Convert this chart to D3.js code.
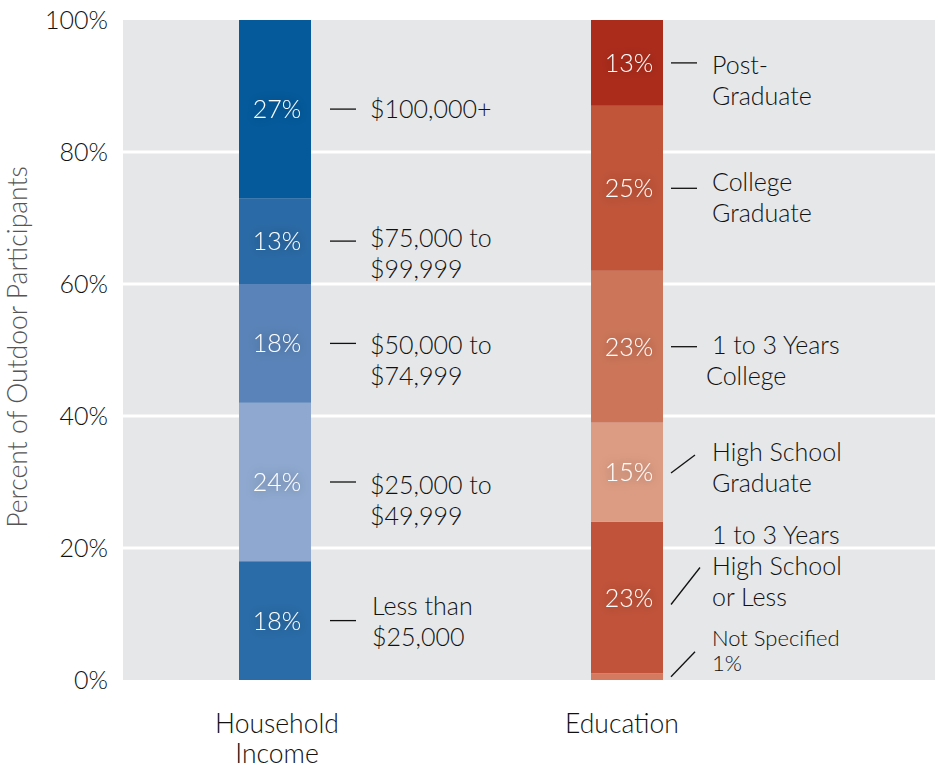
<!DOCTYPE html>
<html>
<head>
<meta charset="utf-8">
<script src="https://cdn.jsdelivr.net/npm/d3@7"></script>
<style>
  body { margin: 0; background: #fff; }
  text { font-family: Lato, "Open Sans", sans-serif; font-weight: 300; }
</style>
</head>
<body>
<svg id="chart"></svg>
<script>
// categories along x
let categories = ['Household Income', 'Education'];

// segments, bottom to top
let incomeLabels = [['Less than', '$25,000'], ['$25,000 to', '$49,999'], ['$50,000 to', '$74,999'],
  ['$75,000 to', '$99,999'], ['$100,000+']];
let incomeValues = [18, 24, 18, 13, 27];
let incomeColors = ['#2a6ca8', '#8ea8cf', '#5a84b9', '#2a6aa6', '#045a9b'];

let eduLabels = [['Not Specified', '1%'], ['1 to 3 Years', 'High School', 'or Less'], ['High School', 'Graduate'],
  ['1 to 3 Years', 'College'], ['College', 'Graduate'], ['Post-', 'Graduate']];
let eduValues = [1, 23, 15, 23, 25, 13];
let eduColors = ['#d47a60', '#c1533a', '#dc9c83', '#cc7559', '#c0553a', '#ac2c1b'];

let yTicks = [0, 20, 40, 60, 80, 100];

function makeChart() {
  let w = 935;
  let h = 770;
  let marginT = 20;
  let marginL = 123;
  let marginB = 90;

  let chart = d3.select('#chart')
    .attr('width', w)
    .attr('height', h);

  // glow behind the white percent labels
  let filter = chart.append('defs').append('filter')
    .attr('id', 'glow')
    .attr('x', '-50%').attr('y', '-50%').attr('width', '200%').attr('height', '200%');
  filter.append('feGaussianBlur').attr('in', 'SourceAlpha').attr('stdDeviation', 6).attr('result', 'blur');
  filter.append('feComponentTransfer').attr('in', 'blur').attr('result', 'shade')
    .append('feFuncA').attr('type', 'linear').attr('slope', 0.45);
  let merge = filter.append('feMerge');
  merge.append('feMergeNode').attr('in', 'shade');
  merge.append('feMergeNode').attr('in', 'SourceGraphic');

  let yScale = d3.scaleLinear()
    .domain([0, 100])
    .range([h - marginB, marginT]);

  let xScale = d3.scalePoint()
    .domain(categories)
    .range([275, 627]);

  let barwidth = 72;

  // plot background
  chart.append('rect')
    .attr('x', marginL)
    .attr('y', marginT)
    .attr('width', w - marginL)
    .attr('height', yScale(0) - marginT)
    .attr('fill', '#e6e7e9');

  // gridlines
  chart.append('g')
    .selectAll('line')
    .data(yTicks.filter(d => d > 0 && d < 100))
    .enter()
    .append('line')
    .attr('x1', marginL)
    .attr('x2', w)
    .attr('y1', d => yScale(d))
    .attr('y2', d => yScale(d))
    .attr('stroke', '#fff')
    .attr('stroke-width', 3);

  // y axis
  let yAxis = d3.axisLeft(yScale)
    .tickValues(yTicks)
    .tickSize(0)
    .tickPadding(15)
    .tickFormat(d => d + '%');

  let yg = chart.append('g')
    .attr('transform', `translate(${marginL}, 0)`)
    .call(yAxis);
  yg.select('.domain').remove();
  yg.selectAll('text')
    .style('font-family', 'Lato, sans-serif')
    .style('font-weight', 300)
    .style('font-size', '25px')
    .attr('fill', '#111');

  chart.append('text')
    .attr('transform', 'rotate(-90)')
    .attr('x', -347)
    .attr('y', 27)
    .style('text-anchor', 'middle')
    .style('font-size', '26.5px')
    .attr('fill', '#555')
    .text('Percent of Outdoor Participants');

  // category labels
  chart.append('g')
    .selectAll('text')
    .data(categories)
    .enter()
    .append('text')
    .attr('x', (d, i) => xScale(d) + (i == 0 ? 2 : -5))
    .attr('y', 733)
    .style('text-anchor', 'middle')
    .style('font-size', '26.5px')
    .attr('fill', '#111')
    .each(function (d) {
      let words = d.split(' ');
      d3.select(this).selectAll('tspan')
        .data(words)
        .enter()
        .append('tspan')
        .attr('x', d3.select(this).attr('x'))
        .attr('dy', (t, j) => j == 0 ? 0 : 30)
        .text(t => t);
    });

  // build stacked segments
  let bars = [
    { cat: categories[0], values: incomeValues, colors: incomeColors, labels: incomeLabels,
      lineX: [19, 45], textX: 59,
      // [text offset of first line, connector start dy, connector end dy, end x]
      layout: [[-15, 0, 0, 45], [3, 0, 0, 45], [2, 0, 0, 45], [-3, 0, 0, 45], [0, 0, 0, 45]] },
    { cat: categories[1], values: eduValues, colors: eduColors, labels: eduLabels,
      lineX: [8, 34], textX: 49,
      layout: [[-39, 0, -25, 32], [-63, 7, -30, 37], [-20, 1, -17, 32], [-2, 0, 0, 34], [-6, 0, 0, 34], [2, 0, 0, 34]] }
  ];

  bars.forEach(function (b) {
    let segs = [];
    let sum = 0;
    b.values.forEach(function (v, i) {
      segs.push({ y0: sum, y1: sum + v, value: v, color: b.colors[i], label: b.labels[i], layout: b.layout[i] });
      sum += v;
    });

    let x0 = xScale(b.cat) - barwidth / 2;
    let x1 = x0 + barwidth;
    let g = chart.append('g');

    g.selectAll('rect')
      .data(segs)
      .enter()
      .append('rect')
      .attr('x', x0)
      .attr('y', d => yScale(d.y1))
      .attr('width', barwidth)
      .attr('height', d => yScale(d.y0) - yScale(d.y1))
      .attr('fill', d => d.color);

    // percent labels inside bars (skip the tiny one)
    g.selectAll('.pct')
      .data(segs.filter(d => d.value > 2))
      .enter()
      .append('text')
      .attr('class', 'pct')
      .attr('x', xScale(b.cat) + 2)
      .attr('y', d => yScale((d.y0 + d.y1) / 2))
      .attr('dy', '0.36em')
      .style('text-anchor', 'middle')
      .style('font-size', '25px')
      .attr('fill', '#fff')
      .attr('filter', 'url(#glow)')
      .text(d => d.value + '%');

    // connectors
    g.selectAll('line')
      .data(segs)
      .enter()
      .append('line')
      .attr('x1', x1 + b.lineX[0])
      .attr('x2', d => x1 + d.layout[3])
      .attr('y1', d => yScale((d.y0 + d.y1) / 2) + d.layout[1])
      .attr('y2', d => yScale((d.y0 + d.y1) / 2) + d.layout[2])
      .attr('stroke', '#111')
      .attr('stroke-width', 1.3);

    // category labels to the right
    g.selectAll('.lbl')
      .data(segs)
      .enter()
      .append('text')
      .attr('class', 'lbl')
      .attr('y', d => yScale((d.y0 + d.y1) / 2) + d.layout[0])
      .attr('dy', '0.36em')
      .style('font-size', d => d.value < 2 ? '22px' : '25px')
      .attr('fill', '#111')
      .each(function (d) {
        let t = d3.select(this);
        let lh = d.value < 2 ? 25 : 31;
        t.selectAll('tspan')
          .data(d.label)
          .enter()
          .append('tspan')
          .attr('x', (s, j) => {
            let x = x1 + b.textX;
            if (d.label[0] == 'Less than') x += 2;
            if (d.label[0] == '1 to 3 Years' && d.label[1] == 'College' && j == 1) x -= 6;
            return x;
          })
          .attr('dy', (s, j) => j == 0 ? '0.36em' : lh)
          .text(s => s);
      });
  });
}

makeChart();
</script>
</body>
</html>
